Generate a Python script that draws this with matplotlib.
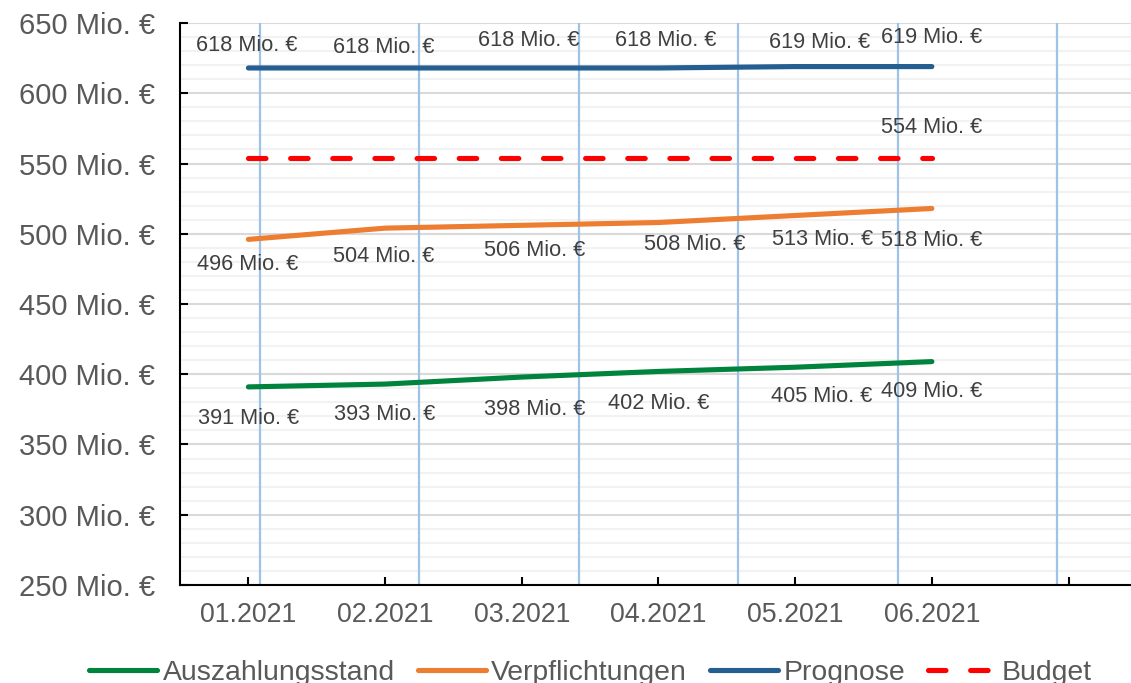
import matplotlib
matplotlib.use("Agg")
import matplotlib.pyplot as plt
from matplotlib.ticker import FuncFormatter, MultipleLocator
from matplotlib.transforms import blended_transform_factory

plt.rcParams['font.family'] = ['Liberation Sans', 'DejaVu Sans']

# data
months = ["01.2021", "02.2021", "03.2021", "04.2021", "05.2021", "06.2021"]
auszahlung = [391, 393, 398, 402, 405, 409]
verpflichtung = [496, 504, 506, 508, 513, 518]
prognose = [618, 618, 618, 618, 619, 619]
budget = [554, 554, 554, 554, 554, 554]

# label offsets in pixels (dx, dy) relative to the point
off_prog = [(-2, 22), (-1, 20), (7, 27), (7, 27), (24, 24), (0, 29)]
off_verp = [(-1, -25), (-1, -28), (13, -25), (36, -22), (27, -24), (0, -32)]
off_ausz = [(0, -32), (0, -30), (13, -32), (0, -32), (27, -29), (0, -30)]
off_budget = (0, 30)

c_green = "#00843D"
c_orange = "#ED7D31"
c_blue = "#255E91"
c_red = "#FF0000"
c_text = "#595959"
c_label = "#404040"

fig = plt.figure(figsize=(11.31, 6.83), dpi=100)
ax = fig.add_axes([0.1592, 0.1435, 0.846, 0.8228])

# secondary category axis, only used for the light blue vertical lines
ax2 = ax.twiny()
ax2.set_xlim(-0.5, len(months) - 0.5)
ax2.set_xticks(range(len(months)))
ax2.tick_params(top=False, labeltop=False)
for s in ax2.spines.values():
    s.set_visible(False)
vtrans = blended_transform_factory(ax2.transData, ax.transAxes)
for t in ax2.get_xticks():
    ax.plot([t, t], [0, 1], transform=vtrans, color="#9DC3E6", lw=1.6, zorder=1.5)

x = list(range(len(months)))
ax.plot(x, auszahlung, color=c_green, lw=3.7, solid_capstyle="round", label="Auszahlungsstand")
ax.plot(x, verpflichtung, color=c_orange, lw=3.7, solid_capstyle="round", label="Verpflichtungen")
ax.plot(x, prognose, color=c_blue, lw=3.7, solid_capstyle="round", label="Prognose")
ax.plot(x, budget, color=c_red, lw=3.7, dashes=(3.4, 4.8), dash_capstyle="round", label="Budget")

def lab(xi, v, off):
    ax.annotate(f"{v:.0f} Mio. €", (xi, v), xytext=off, textcoords="offset pixels",
                ha="center", va="center", fontsize=15.7, color=c_label)

for i in x:
    lab(i, prognose[i], off_prog[i])
    lab(i, verpflichtung[i], off_verp[i])
    lab(i, auszahlung[i], off_ausz[i])
lab(x[-1], budget[-1], off_budget)

ax.set_xlim(-0.5, len(months) + 0.5)
ax.set_xticks(range(len(months) + 1))
ax.set_xticklabels(months + [""])
ax.set_ylim(250, 650)
ax.yaxis.set_major_locator(MultipleLocator(50))
ax.yaxis.set_minor_locator(MultipleLocator(10))
ax.yaxis.set_major_formatter(FuncFormatter(lambda v, p: f"{v:.0f} Mio. €"))
ax.grid(axis="y", which="major", color="#D9D9D9", lw=1.5)
ax.grid(axis="y", which="minor", color="#F2F2F2", lw=1.5)
ax.set_axisbelow(True)

ax.tick_params(axis="y", which="major", direction="in", length=6, width=1.5,
               labelsize=21, labelcolor=c_text, pad=18)
ax.tick_params(axis="y", which="minor", length=0)
ax.tick_params(axis="x", direction="in", length=6, width=1.5,
               labelsize=19.3, labelcolor=c_text, pad=12)
ax.spines["top"].set_visible(False)
ax.spines["right"].set_visible(False)
ax.spines["left"].set_linewidth(1.5)
ax.spines["bottom"].set_linewidth(1.5)

# legend sits at the very bottom edge, as in the source image
fig.legend(loc="center", bbox_to_anchor=(0.522, 0.0145), ncol=4, frameon=False,
           fontsize=20.4, labelcolor=c_text, handlelength=2.4, handletextpad=0.2,
           columnspacing=0.8, borderaxespad=0)

fig.savefig("out.png", dpi=100)
